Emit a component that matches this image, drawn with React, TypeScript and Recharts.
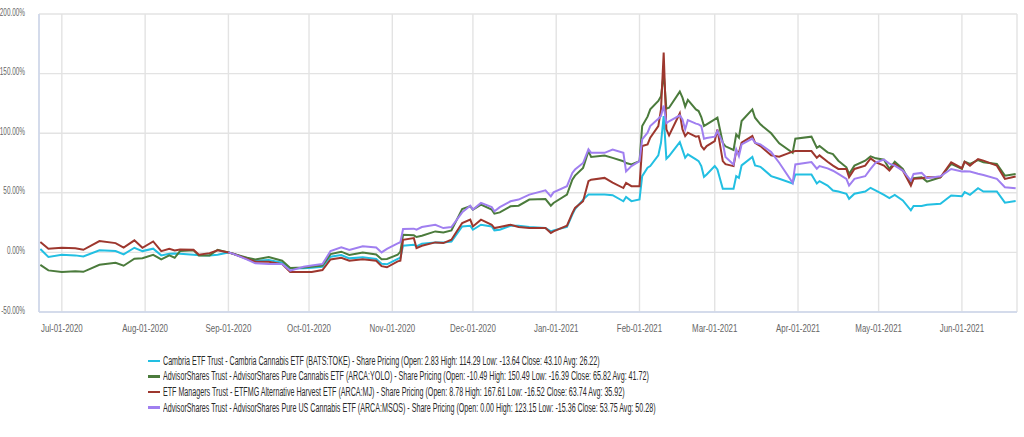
import React from "react";
import { LineChart, Line, XAxis, YAxis, CartesianGrid } from "recharts";

// trading dates sampled from the chart
const dates = [
  "2020-06-23", "2020-06-26", "2020-07-01", "2020-07-06", "2020-07-09", "2020-07-15", "2020-07-21", "2020-07-24",
  "2020-07-28", "2020-07-31", "2020-08-04", "2020-08-07", "2020-08-10", "2020-08-12", "2020-08-14", "2020-08-19",
  "2020-08-21", "2020-08-25", "2020-08-28", "2020-09-01", "2020-09-03", "2020-09-08", "2020-09-11", "2020-09-16",
  "2020-09-21", "2020-09-24", "2020-09-29", "2020-10-02", "2020-10-06", "2020-10-09", "2020-10-13", "2020-10-16",
  "2020-10-21", "2020-10-26", "2020-10-28", "2020-10-30", "2020-11-03", "2020-11-04", "2020-11-05", "2020-11-09",
  "2020-11-10", "2020-11-12", "2020-11-17", "2020-11-20", "2020-11-23", "2020-11-27", "2020-11-30", "2020-12-01",
  "2020-12-04", "2020-12-08", "2020-12-09", "2020-12-11", "2020-12-15", "2020-12-18", "2020-12-22", "2020-12-28",
  "2020-12-30", "2020-12-31", "2021-01-05", "2021-01-07", "2021-01-08", "2021-01-11", "2021-01-13", "2021-01-14",
  "2021-01-19", "2021-01-22", "2021-01-26", "2021-01-27", "2021-01-29", "2021-02-01", "2021-02-02", "2021-02-04",
  "2021-02-05", "2021-02-08", "2021-02-09", "2021-02-10", "2021-02-11", "2021-02-12", "2021-02-16", "2021-02-17",
  "2021-02-18", "2021-02-19", "2021-02-22", "2021-02-23", "2021-02-24", "2021-02-25", "2021-02-26", "2021-03-01",
  "2021-03-02", "2021-03-04", "2021-03-05", "2021-03-08", "2021-03-09", "2021-03-10", "2021-03-11", "2021-03-15",
  "2021-03-16", "2021-03-18", "2021-03-22", "2021-03-25", "2021-03-30", "2021-03-31", "2021-04-06", "2021-04-08",
  "2021-04-09", "2021-04-12", "2021-04-14", "2021-04-16", "2021-04-19", "2021-04-20", "2021-04-22", "2021-04-26",
  "2021-04-28", "2021-04-30", "2021-05-03", "2021-05-05", "2021-05-07", "2021-05-10", "2021-05-13", "2021-05-14",
  "2021-05-17", "2021-05-19", "2021-05-24", "2021-05-28", "2021-06-01", "2021-06-02", "2021-06-04", "2021-06-07",
  "2021-06-09", "2021-06-14", "2021-06-17", "2021-06-21",
];

const toke = [
  2.8, -3.9, -2.0, -2.5, -3.4, 1.7, 1.1, -1.7, 3.9, 1.1, 3.1, -2.5, -1.1, -1.0, -1.1, -2.0,
  -2.3, -2.5, -2.0, 0, -1.4, -5.0, -7.0, -6.4, -8.7, -13.6, -13.4, -12.9, -12.0, -3.6, -2.2, -5.0,
  -4.0, -5.5, -9.5, -10.0, -5.5, -4.5, 5.6, 6.4, 5.0, 7.3, 8.4, 8.4, 9.2, 21.8, 22.4, 19.0,
  23.2, 21.8, 18.5, 19.0, 22.4, 22.4, 21.3, 20.4, 17.6, 18.5, 21.3, 31.7, 36.4, 44.3, 48.5, 48.5,
  48.5, 48.0, 42.9, 46.5, 43.0, 44.4, 64.0, 71.0, 72.4, 81.4, 92.0, 114.3, 78.6, 80.8, 92.6, 86.0,
  79.4, 82.2, 78.0, 76.6, 72.4, 63.4, 65.4, 72.4, 69.6, 53.4, 53.4, 53.4, 64.0, 62.6, 73.0, 80.0,
  73.0, 71.8, 64.0, 61.8, 57.8, 65.4, 65.4, 57.8, 59.8, 56.1, 51.9, 51.1, 49.2, 45.0, 49.2, 51.1,
  54.2, 51.9, 48.3, 45.6, 48.3, 43.6, 35.3, 38.9, 38.9, 40.0, 40.8, 47.8, 47.2, 50.6, 48.3, 53.9,
  51.1, 51.1, 41.7, 43.1,
];

const yolo = [
  -10.5, -15.1, -16.4, -15.8, -16.3, -10.4, -8.7, -11.2, -5.3, -4.9, -2.0, -5.9, -2.5, -4.5, 1.1, 1.7,
  -2.5, -2.5, 2.2, 0, -1.4, -4.5, -5.9, -3.8, -7.0, -13.0, -12.6, -12.0, -11.0, -1.4, 0.6, -2.2,
  0.0, -1.7, -5.8, -5.5, -2.0, 0.7, 14.8, 14.3, 12.9, 14.0, 17.6, 16.8, 18.5, 36.4, 38.7, 35.9,
  40.1, 35.9, 32.5, 33.6, 38.7, 39.2, 44.3, 44.8, 39.2, 41.5, 48.5, 61.0, 64.4, 70.9, 84.9, 80.0,
  81.2, 79.3, 76.5, 75.0, 73.8, 76.6, 106.0, 113.9, 120.0, 127.0, 131.0, 150.5, 120.6, 121.4, 134.9, 129.8,
  122.3, 127.9, 120.0, 118.6, 113.6, 106.0, 107.4, 111.6, 113.0, 92.0, 89.0, 85.9, 99.0, 96.2, 110.2, 120.0,
  113.0, 107.4, 99.9, 91.5, 83.6, 95.4, 97.1, 87.8, 89.2, 83.9, 82.5, 76.9, 71.4, 65.8, 72.8, 76.9,
  80.6, 78.9, 77.8, 70.0, 76.1, 70.0, 57.5, 62.2, 63.0, 59.4, 63.0, 74.2, 70.0, 76.1, 74.2, 77.5,
  75.6, 74.2, 64.4, 65.8,
];

const mj = [
  8.8, 3.1, 3.9, 3.5, 2.2, 9.5, 7.8, 4.0, 10.1, 3.9, 9.2, 1.1, 3.0, 1.7, 2.5, 2.2,
  -2.0, -0.6, 1.7, 0, -1.4, -5.5, -7.8, -7.8, -9.8, -16.5, -16.5, -16.4, -14.8, -5.9, -4.5, -7.0,
  -5.8, -7.0, -11.5, -12.5, -7.5, -7.0, 10.6, 12.0, 3.6, 5.6, 8.4, 7.8, 10.6, 24.6, 27.5, 21.8,
  27.5, 23.2, 20.4, 21.3, 23.2, 21.3, 20.4, 20.4, 16.2, 17.6, 22.4, 33.0, 37.3, 42.9, 59.7, 61.0,
  62.5, 58.5, 54.0, 58.3, 55.6, 55.6, 89.2, 90.6, 96.2, 106.0, 120.0, 167.6, 103.2, 98.2, 116.7, 103.2,
  97.6, 100.4, 97.1, 97.6, 89.2, 86.4, 89.2, 93.4, 103.2, 76.6, 74.0, 72.4, 85.0, 83.6, 92.0, 97.6,
  92.0, 89.2, 81.4, 80.3, 84.5, 85.0, 85.0, 79.4, 81.4, 76.1, 72.8, 70.0, 70.0, 63.0, 70.0, 72.8,
  78.9, 75.6, 72.8, 68.6, 74.2, 68.6, 56.1, 61.7, 62.2, 63.0, 63.0, 75.6, 70.6, 76.1, 72.8, 78.3,
  77.0, 72.8, 61.7, 63.7,
];

const msos = [
  null, null, null, null, null, null, null, null, null, null, null, null, null, null, null, null,
  null, null, null, 0, -1.4, -6.0, -9.2, -9.8, -9.8, -15.3, -12.0, -11.0, -9.8, 1.1, 4.2, 2.0,
  5.2, 4.2, 0.0, 3.0, 7.5, 8.5, 19.6, 19.9, 19.0, 21.3, 23.2, 20.4, 21.3, 33.6, 39.2, 35.9,
  41.5, 38.1, 34.5, 38.0, 42.9, 44.3, 48.5, 52.1, 47.0, 50.4, 55.5, 66.7, 69.5, 75.0, 86.5, 83.5,
  83.5, 86.3, 83.5, 68.0, 72.4, 76.6, 94.8, 100.4, 106.0, 112.2, 114.4, 123.2, 108.3, 110.0, 115.0, 111.6,
  103.2, 111.0, 108.0, 107.4, 106.0, 95.4, 96.0, 97.1, 101.8, 92.0, 80.0, 73.8, 86.4, 80.8, 90.6, 95.4,
  92.0, 90.6, 84.2, 75.2, 58.4, 73.8, 75.8, 70.2, 72.4, 70.5, 68.5, 65.8, 61.7, 56.1, 61.7, 63.9,
  70.0, 75.5, 77.8, 74.5, 72.8, 68.6, 60.3, 65.8, 66.7, 62.2, 63.9, 70.0, 67.8, 68.0, 67.8, 66.0,
  65.0, 61.7, 54.7, 53.8,
];

const monthTicks = [
  "2020-07-01", "2020-08-01", "2020-09-01", "2020-10-01", "2020-11-01", "2020-12-01",
  "2021-01-01", "2021-02-01", "2021-03-01", "2021-04-01", "2021-05-01", "2021-06-01",
];
const monthLabels = [
  "Jul-01-2020", "Aug-01-2020", "Sep-01-2020", "Oct-01-2020", "Nov-01-2020", "Dec-01-2020",
  "Jan-01-2021", "Feb-01-2021", "Mar-01-2021", "Apr-01-2021", "May-01-2021", "Jun-01-2021",
];
const yTicks = [-50, 0, 50, 100, 150, 200];

const series = [
  { key: "toke", color: "#22bfe2", name: "Cambria ETF Trust - Cambria Cannabis ETF (BATS:TOKE) - Share Pricing (Open: 2.83 High: 114.29 Low: -13.64 Close: 43.10 Avg: 26.22)" },
  { key: "yolo", color: "#4b7b3c", name: "AdvisorShares Trust - AdvisorShares Pure Cannabis ETF (ARCA:YOLO) - Share Pricing (Open: -10.49 High: 150.49 Low: -16.39 Close: 65.82 Avg: 41.72)" },
  { key: "mj", color: "#9d372e", name: "ETF Managers Trust - ETFMG Alternative Harvest ETF (ARCA:MJ) - Share Pricing (Open: 8.78 High: 167.61 Low: -16.52 Close: 63.74 Avg: 35.92)" },
  { key: "msos", color: "#a07ff0", name: "AdvisorShares Trust - AdvisorShares Pure US Cannabis ETF (ARCA:MSOS) - Share Pricing (Open: 0.00 High: 123.15 Low: -15.36 Close: 53.75 Avg: 50.28)" },
];

const toTime = (d: string) => Date.parse(d + "T00:00:00Z");
const HALF_DAY = 12 * 3600 * 1000;

const data = dates.map((d, i) => ({
  t: toTime(d),
  toke: toke[i],
  yolo: yolo[i],
  mj: mj[i],
  msos: msos[i],
}));

const tickTimes = monthTicks.map(toTime);
const labelFor = (t: number) => monthLabels[tickTimes.indexOf(t)] || "";

const FONT = "'Liberation Sans', Arial, sans-serif";

// the reference text is squeezed horizontally, so the labels are scaled in x
const YTick = ({ x, y, payload }: any) => (
  <g transform={`translate(${x},${y})`}>
    <text transform="scale(0.64,1)" textAnchor="end" dy="0.15em" fontSize={10} fontFamily={FONT} fill="#666666">
      {payload.value.toFixed(2) + "%"}
    </text>
  </g>
);

const XTick = ({ x, y, payload }: any) => (
  <g transform={`translate(${x},${y})`}>
    <text transform="scale(0.72,1)" textAnchor="middle" dy="0.71em" fontSize={11} fontFamily={FONT} fill="#666666">
      {labelFor(payload.value)}
    </text>
  </g>
);

export default function App() {
  return (
    <div style={{ position: "absolute", left: 0, top: 0, width: 1024, height: 437, background: "#fff" }}>
      <LineChart width={1024} height={340} data={data} margin={{ top: 14, right: 7, left: 0, bottom: 0 }}>
        <CartesianGrid stroke="#e3e3e3" strokeWidth={1.4} />
        <XAxis
          dataKey="t"
          type="number"
          domain={[toTime("2020-06-22") + HALF_DAY, toTime("2021-06-21") + HALF_DAY]}
          ticks={tickTimes}
          interval={0}
          tick={<XTick />}
          tickLine={false}
          tickMargin={6}
          height={28}
          axisLine={{ stroke: "#ccd6eb", strokeWidth: 1.5 }}
          allowDataOverflow
        />
        <YAxis
          type="number"
          domain={[-50, 200]}
          ticks={yTicks}
          interval={0}
          tick={<YTick />}
          tickLine={false}
          tickMargin={8}
          width={39}
          axisLine={{ stroke: "#ccd6eb", strokeWidth: 1.5 }}
        />
        {series.map((s) => (
          <Line
            key={s.key}
            type="linear"
            dataKey={s.key}
            stroke={s.color}
            strokeWidth={2}
            dot={false}
            connectNulls={false}
            isAnimationActive={false}
          />
        ))}
      </LineChart>
      <div style={{ position: "absolute", left: 148, top: 353, fontFamily: FONT, fontSize: 12.5, color: "#2a2a2a" }}>
        {series.map((s) => (
          <div key={s.key} style={{ height: 15.6, display: "flex", alignItems: "center", whiteSpace: "nowrap" }}>
            <span style={{ display: "inline-block", width: 12, height: 2.5, background: s.color, marginRight: 3 }} />
            <span style={{ display: "inline-block", transform: "scaleX(0.57)", transformOrigin: "left center" }}>
              {s.name}
            </span>
          </div>
        ))}
      </div>
    </div>
  );
}
